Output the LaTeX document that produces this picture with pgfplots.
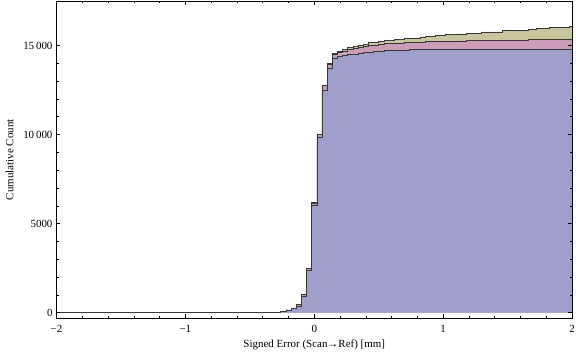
\documentclass[border=0pt]{standalone}
\usepackage{fontspec}
\setmainfont{Liberation Serif}
\usepackage{pgfplots}
\usepackage{pgfplotstable}
\pgfplotsset{compat=1.18}
\definecolor{cblue}{RGB}{160,159,204}
\definecolor{cpink}{RGB}{204,157,184}
\definecolor{colive}{RGB}{201,198,158}
\definecolor{edge}{RGB}{55,55,55}
\pgfplotstableread{
x blue pink olive
-2.00 0 0 0
-0.34 10 12 14
-0.30 20 24 26
-0.26 50 56 58
-0.22 130 150 155
-0.18 230 260 265
-0.14 380 460 470
-0.10 900 1020 1040
-0.06 2360 2480 2500
-0.02 6000 6140 6170
0.02 9830 10000 10030
0.06 12510 12740 12780
0.10 13730 13960 14010
0.14 14290 14500 14570
0.18 14380 14600 14700
0.22 14450 14700 14800
0.26 14500 14780 14890
0.30 14530 14850 14950
0.34 14560 14900 15010
0.38 14620 14950 15080
0.42 14640 15000 15170
0.46 14650 15030 15200
0.50 14700 15077 15245
0.54 14710 15100 15280
0.58 14720 15133 15320
0.62 14725 15140 15340
0.66 14730 15150 15360
0.70 14735 15160 15395
0.74 14760 15170 15410
0.78 14760 15190 15430
0.82 14765 15200 15470
0.86 14770 15210 15490
0.90 14770 15220 15545
0.94 14775 15235 15560
0.98 14775 15245 15580
1.02 14780 15250 15620
1.10 14800 15260 15650
1.18 14800 15270 15695
1.30 14800 15283 15770
1.46 14800 15300 15845
1.54 14800 15320 15870
1.66 14800 15330 15920
1.72 14800 15357 15950
1.82 14800 15360 15995
1.98 14800 15370 16070
2.00 14800 15370 16070
}\datatable
\begin{document}
\begin{tikzpicture}
\begin{axis}[
  at={(0,0)}, anchor=south west,
  scale only axis,
  width=515.5bp, height=317.5bp,
  xmin=-2, xmax=2, ymin=-330, ymax=17500,
  xtick={-2,-1,0,1,2},
  xticklabels={−2,−1,0,1,2},
  ytick={0,5000,10000,15000},
  yticklabels={0,5000,10\,000,15\,000},
  scaled y ticks=false,
  minor x tick num=4,
  minor y tick num=4,
  tick align=inside,
  major tick length=4bp,
  minor tick length=2.5bp,
  axis line style={black, line width=0.5pt},
  every tick/.style={black, line width=0.5pt},
  tick label style={font=\fontsize{11}{13}\selectfont},
  label style={font=\fontsize{11}{13}\selectfont},
  xticklabel style={yshift=-3bp},
  yticklabel style={xshift=-0.5bp},
  xlabel={Signed Error (Scan→Ref) [mm]},
  ylabel={Cumulative Count},
  xlabel style={yshift=-0.5bp},
  ylabel style={yshift=3bp},
  axis on top,
]
\addplot[const plot mark left, fill=colive, draw=none] table[x=x, y=olive] {\datatable} \closedcycle;
\addplot[const plot mark left, draw=edge, line width=0.6pt] table[x=x, y=olive] {\datatable};
\addplot[const plot mark left, fill=cpink, draw=none] table[x=x, y=pink] {\datatable} \closedcycle;
\addplot[const plot mark left, draw=edge, line width=0.6pt] table[x=x, y=pink] {\datatable};
\addplot[const plot mark left, fill=cblue, draw=none] table[x=x, y=blue] {\datatable} \closedcycle;
\addplot[const plot mark left, draw=edge, line width=0.6pt] table[x=x, y=blue] {\datatable};
\end{axis}
\pgfresetboundingbox
\path[use as bounding box] (-56.5bp,-40.5bp) rectangle (519.5bp,318.5bp);
\end{tikzpicture}
\end{document}
